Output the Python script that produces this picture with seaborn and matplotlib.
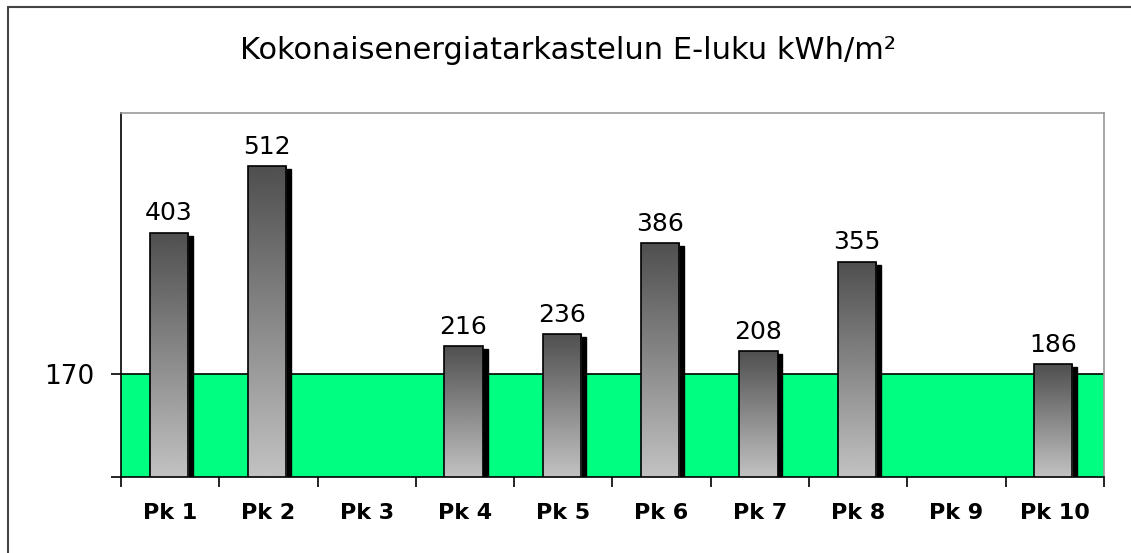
import numpy as np
import matplotlib
matplotlib.use('Agg')
import matplotlib.pyplot as plt
import seaborn as sns
import pandas as pd
from matplotlib.patches import Rectangle
from matplotlib.lines import Line2D

# Data
categories = ["Pk 1", "Pk 2", "Pk 3", "Pk 4", "Pk 5", "Pk 6", "Pk 7", "Pk 8", "Pk 9", "Pk 10"]
values = [403, 512, np.nan, 216, 236, 386, 208, 355, np.nan, 186]
limit = 170
title = "Kokonaisenergiatarkastelun E-luku kWh/m²"

df = pd.DataFrame({"cat": categories, "val": values})

sns.set_style("white")
plt.rcParams['font.family'] = ['DejaVu Sans']
plt.rcParams['text.color'] = 'black'

fig = plt.figure(figsize=(11.31, 5.53), dpi=100)
ax = fig.add_axes([0.107, 0.1374, 0.869, 0.6583])

# green band up to the limit
ax.axhspan(0, limit, color="#00ff80", zorder=0)
ax.axhline(limit, color="black", lw=1.2, zorder=1)

sns.barplot(data=df, x="cat", y="val", order=categories, width=0.39,
            color="white", edgecolor="black", linewidth=1.2, ax=ax, zorder=3)

ax.set_xlim(-0.5, len(categories) - 0.5)
ax.set_ylim(0, 600)

# gradient fill + shadow for each bar
grad = np.linspace(0.31, 0.76, 256).reshape(-1, 1)
for p in ax.containers[0].patches:
    p.set_x(p.get_x() - 0.015)
    x0, w, h = p.get_x(), p.get_width(), p.get_height()
    idx = int(round(x0 + w / 2))
    v = values[idx]
    if np.isnan(v) or h <= 0:
        continue
    ax.add_patch(Rectangle((x0 + 0.05, 0), w, h - 5, color="black", zorder=2))
    im = ax.imshow(grad, cmap="gray", vmin=0, vmax=1, aspect="auto",
                   extent=(x0, x0 + w, 0, h), origin="upper", zorder=3)
    im.set_clip_path(p)
    p.set_facecolor("none")
    p.set_zorder(4)
    ax.text(x0 + w / 2, h + 12, f"{int(v)}", ha="center", va="bottom",
            fontsize=18, color="black")

# axes styling
for s in ["top", "right"]:
    ax.spines[s].set_color("#999999")
    ax.spines[s].set_linewidth(1.2)
for s in ["left", "bottom"]:
    ax.spines[s].set_color("black")
    ax.spines[s].set_linewidth(1.2)

ax.set_yticks([0, limit])
ax.set_yticklabels(["", str(limit)], fontsize=19, color="black")
ax.tick_params(axis="y", direction="out", length=7, width=1.2, color="black", pad=12, left=True)

ax.set_xticks(range(len(categories)))
ax.set_xticklabels(categories, fontsize=16, fontweight="bold", color="black")
ax.set_xticks(np.arange(-0.5, len(categories)), minor=True)
ax.tick_params(axis="x", which="major", length=0, pad=19)
ax.tick_params(axis="x", which="minor", direction="out", length=7, width=1.2, color="black", bottom=True)
ax.set_xlabel("")
ax.set_ylabel("")

fig.text(0.502, 0.908, title, ha="center", va="center", fontsize=22, color="black")

# outer frame (top and left edges)
fig.add_artist(Line2D([0.007, 1.0], [0.987, 0.987], color="#444444", lw=1.5, transform=fig.transFigure))
fig.add_artist(Line2D([0.007, 0.007], [0.0, 0.987], color="#444444", lw=1.5, transform=fig.transFigure))

fig.savefig("out.png", dpi=100)
